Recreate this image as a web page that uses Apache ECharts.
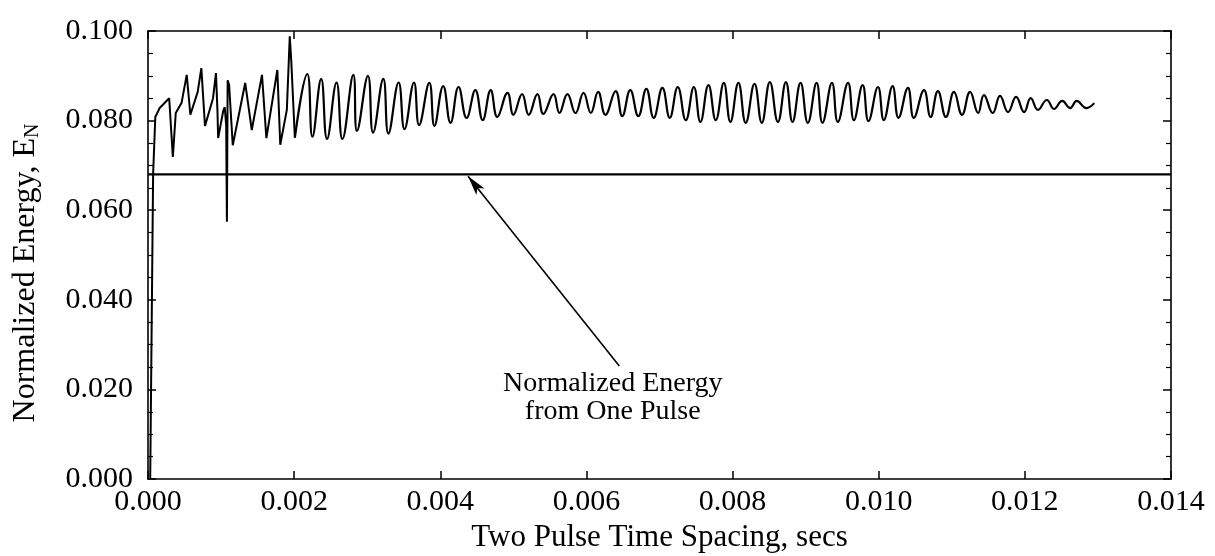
<!DOCTYPE html>
<html>
<head>
<meta charset="utf-8">
<script src="https://cdn.jsdelivr.net/npm/echarts@6/dist/echarts.min.js"></script>
<style>
  html, body { margin: 0; padding: 0; background: #fff; }
  #main { width: 1215px; height: 556px; }
</style>
</head>
<body>
<div id="main"></div>
<script>
// early burst region (secs, normalized energy)
var burstTime = [0.00003, 0.00007, 0.00010, 0.00016, 0.00029, 0.00034, 0.00038, 0.00046, 0.00053, 0.00058,
    0.00068, 0.00073, 0.00078, 0.00089, 0.00093, 0.00095, 0.00096, 0.00103, 0.00105, 0.00107,
    0.00108, 0.00109, 0.00111, 0.00116, 0.00133, 0.00142, 0.00156, 0.00162, 0.00177, 0.00181,
    0.00190, 0.00194, 0.00196, 0.00201];
var burstEnergy = [0.0000, 0.0680, 0.0808, 0.0828, 0.0850, 0.0719, 0.0817, 0.0840, 0.0902, 0.0813,
    0.0864, 0.0917, 0.0788, 0.0850, 0.0906, 0.0824, 0.0761, 0.0822, 0.0830, 0.0790,
    0.0574, 0.0890, 0.0880, 0.0745, 0.0884, 0.0779, 0.0902, 0.0761, 0.0913, 0.0746,
    0.0824, 0.0988, 0.0935, 0.0762];

// ringing region: alternating peaks and troughs
var ringTime = [0.00201, 0.00218, 0.00225, 0.00237, 0.00245, 0.00258, 0.00266, 0.00281, 0.00286, 0.00301,
    0.00308, 0.00322, 0.00329, 0.00343, 0.00351, 0.00364, 0.00371, 0.00385, 0.00392, 0.00404,
    0.00414, 0.00425, 0.00436, 0.00448, 0.00458, 0.00469, 0.00478, 0.00492, 0.00500, 0.00512,
    0.00521, 0.00533, 0.00541, 0.00555, 0.00563, 0.00574, 0.00585, 0.00596, 0.00606, 0.00616,
    0.00626, 0.00640, 0.00649, 0.00660, 0.00671, 0.00682, 0.00692, 0.00704, 0.00714, 0.00725,
    0.00736, 0.00747, 0.00756, 0.00767, 0.00777, 0.00788, 0.00797, 0.00808, 0.00818, 0.00830,
    0.00840, 0.00851, 0.00862, 0.00873, 0.00882, 0.00893, 0.00903, 0.00915, 0.00923, 0.00936,
    0.00944, 0.00958, 0.00966, 0.00978, 0.00986, 0.00999, 0.01007, 0.01019, 0.01027, 0.01040,
    0.01048, 0.01062, 0.01071, 0.01081, 0.01092, 0.01103, 0.01114, 0.01125, 0.01136, 0.01144,
    0.01156, 0.01166, 0.01177, 0.01188, 0.01199, 0.01208, 0.01218, 0.01230, 0.01240, 0.01251,
    0.01262, 0.01271, 0.01284, 0.01295];
var ringEnergy = [0.0762, 0.0904, 0.0764, 0.0893, 0.0759, 0.0885, 0.0759, 0.0902, 0.0777, 0.0900,
    0.0773, 0.0893, 0.0771, 0.0885, 0.0781, 0.0885, 0.0790, 0.0884, 0.0788, 0.0877,
    0.0795, 0.0875, 0.0806, 0.0868, 0.0801, 0.0868, 0.0808, 0.0862, 0.0813, 0.0859,
    0.0813, 0.0859, 0.0815, 0.0859, 0.0817, 0.0859, 0.0817, 0.0862, 0.0817, 0.0864,
    0.0813, 0.0866, 0.0810, 0.0868, 0.0810, 0.0871, 0.0806, 0.0873, 0.0806, 0.0875,
    0.0801, 0.0875, 0.0797, 0.0879, 0.0801, 0.0884, 0.0797, 0.0884, 0.0795, 0.0882,
    0.0795, 0.0886, 0.0797, 0.0886, 0.0797, 0.0884, 0.0795, 0.0884, 0.0795, 0.0884,
    0.0797, 0.0884, 0.0801, 0.0879, 0.0799, 0.0875, 0.0801, 0.0877, 0.0806, 0.0873,
    0.0806, 0.0868, 0.0808, 0.0866, 0.0808, 0.0864, 0.0813, 0.0864, 0.0817, 0.0857,
    0.0817, 0.0855, 0.0819, 0.0853, 0.0819, 0.0850, 0.0824, 0.0846, 0.0826, 0.0844,
    0.0828, 0.0844, 0.0828, 0.0839];

// single pulse reference level
var onePulseTime = [0, 0.014];
var onePulseEnergy = [0.068, 0.068];

function zip(xs, ys) {
    var out = [];
    for (var i = 0; i < xs.length; i++) {
        out.push([xs[i], ys[i]]);
    }
    return out;
}

var font = 'Liberation Serif';
var black = '#000';

function axisBase() {
    return {
        type: 'value',
        axisLine: {show: true, onZero: false, lineStyle: {color: black, width: 1.6}},
        axisTick: {show: true, inside: true, length: 8, lineStyle: {color: black, width: 1.5}},
        splitLine: {show: false}
    };
}

var myChart = echarts.init(document.getElementById('main'), null, {renderer: 'canvas'});
myChart.setOption({
    animation: false,
    backgroundColor: '#fff',
    textStyle: {fontFamily: font, color: black},
    grid: {left: 148, right: 44, top: 31, bottom: 77, containLabel: false, outerBoundsMode: 'none'},
    xAxis: [
        echarts.util.merge({
            position: 'bottom',
            min: 0,
            max: 0.014,
            interval: 0.002,
            axisLabel: {
                fontFamily: font, fontSize: 30, color: black, margin: 8,
                formatter: function (v) { return v.toFixed(3); }
            },
            name: 'Two Pulse Time Spacing, secs',
            nameLocation: 'middle',
            nameGap: 40,
            nameTextStyle: {fontFamily: font, fontSize: 31, color: black}
        }, axisBase(), true),
        echarts.util.merge({
            position: 'top',
            min: 0,
            max: 0.014,
            interval: 0.002,
            axisLabel: {show: false}
        }, axisBase(), true)
    ],
    yAxis: [
        echarts.util.merge({
            position: 'left',
            min: 0,
            max: 0.1,
            interval: 0.02,
            minorTick: {show: true, splitNumber: 4, length: 5, lineStyle: {color: black, width: 1.2}},
            axisLabel: {
                fontFamily: font, fontSize: 30, color: black, margin: 15,
                formatter: function (v) { return v.toFixed(3); }
            },
            name: 'Normalized Energy, E{sub|N}',
            nameLocation: 'middle',
            nameGap: 105,
            nameTextStyle: {
                fontFamily: font, fontSize: 32, color: black,
                padding: [0, 36, 0, 0],
                rich: {sub: {fontFamily: font, fontSize: 20, color: black, padding: [15, 0, 0, 0]}}
            }
        }, axisBase(), true),
        echarts.util.merge({
            position: 'right',
            min: 0,
            max: 0.1,
            interval: 0.02,
            minorTick: {show: true, splitNumber: 4, length: 5, lineStyle: {color: black, width: 1.2}},
            axisLabel: {show: false}
        }, axisBase(), true)
    ],
    series: [
        {
            name: 'burst',
            type: 'line',
            data: zip(burstTime, burstEnergy),
            showSymbol: false,
            symbol: 'none',
            lineStyle: {color: black, width: 2},
            z: 3
        },
        {
            name: 'ringing',
            type: 'line',
            data: zip(ringTime, ringEnergy),
            smooth: 0.45,
            showSymbol: false,
            symbol: 'none',
            lineStyle: {color: black, width: 2.2},
            z: 3
        },
        {
            name: 'onePulse',
            type: 'line',
            data: zip(onePulseTime, onePulseEnergy),
            showSymbol: false,
            symbol: 'none',
            lineStyle: {color: black, width: 2.4},
            markLine: {
                silent: true,
                symbol: ['none', 'arrow'],
                symbolSize: [8, 20],
                label: {show: false},
                lineStyle: {color: black, width: 1.6, type: 'solid'},
                data: [[{coord: [0.00645, 0.0252]}, {coord: [0.00438, 0.0676]}]]
            },
            markPoint: {
                silent: true,
                symbol: 'circle',
                symbolSize: 0,
                label: {
                    show: true,
                    position: 'inside',
                    formatter: 'Normalized Energy\nfrom One Pulse',
                    fontFamily: font,
                    fontSize: 28,
                    lineHeight: 28,
                    color: black,
                    align: 'center',
                    verticalAlign: 'middle'
                },
                data: [{coord: [0.00636, 0.0181]}]
            }
        }
    ]
});
</script>
</body>
</html>
